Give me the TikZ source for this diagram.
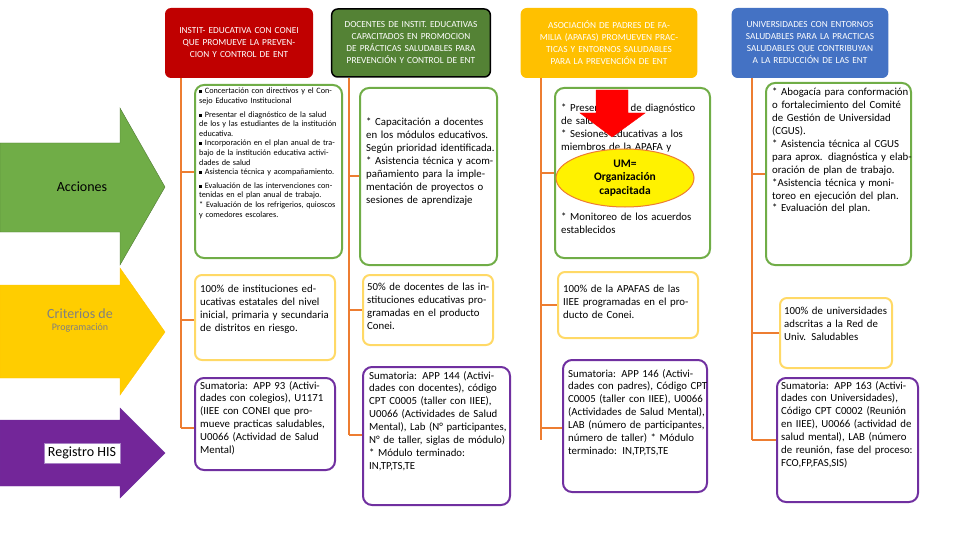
\documentclass[tikz,border=0pt]{standalone}
\usepackage{fontspec}
\setmainfont{Carlito}
\usetikzlibrary{shapes.geometric}
\definecolor{hdred}{RGB}{192,0,0}
\definecolor{hdgreen}{RGB}{84,130,53}
\definecolor{hdyellow}{RGB}{255,192,0}
\definecolor{hdblue}{RGB}{68,114,196}
\definecolor{bxgreen}{RGB}{112,173,71}
\definecolor{bxyellow}{RGB}{255,217,102}
\definecolor{bxpurple}{RGB}{112,48,160}
\definecolor{lnorange}{RGB}{237,125,49}
\newcommand{\sqb}{\rule[0.5pt]{3pt}{3pt}\ }
\tikzset{
  head/.style={rounded corners=6pt,text=white,align=center,font=\fontsize{9.3}{12}\selectfont},
  actbox/.style={draw=bxgreen,line width=2pt,rounded corners=9pt,fill=white},
  critbox/.style={draw=bxyellow,line width=2pt,rounded corners=7pt,fill=white},
  regbox/.style={draw=bxpurple,line width=2pt,rounded corners=9pt,fill=white},
  txt/.style={anchor=north west,align=left,inner sep=0pt,font=\fontsize{10.8}{12.9}\selectfont},
  link/.style={draw=lnorange,line width=1.5pt},
}
\begin{document}
\begin{tikzpicture}[x=1pt,y=-1pt]
\useasboundingbox (0,0) rectangle (960,540);

% left arrows
\draw[fill=bxgreen,draw=bxgreen!70!black] (0,143) -- (120,143) -- (120,108) -- (165,187) -- (120,265) -- (120,232) -- (0,232) -- cycle;
\node (acc) at (82,187) {\fontsize{14}{16}\selectfont Acciones};
\draw[fill=hdyellow!80!yellow,draw=hdyellow] (0,285) -- (120,285) -- (120,268) -- (165,332) -- (120,395) -- (120,378) -- (0,378) -- cycle;
\node[align=center,text=gray] (crit) at (80,320) {\fontsize{14}{21}\selectfont Criterios de\\Programación};
\draw[fill=bxpurple!80!violet,draw=bxpurple] (0,420) -- (120,420) -- (120,408) -- (165,453) -- (120,498) -- (120,486) -- (0,486) -- cycle;
\node[fill=white,draw=bxpurple!60,inner sep=4pt] (reg) at (82,453) {\fontsize{14}{16}\selectfont Registro HIS};

% headers
\node[head,fill=hdred,minimum width=148pt,minimum height=70pt,text width=140pt] (h1) at (239,43) {INSTIT- EDUCATIVA CON CONEI QUE PROMUEVE LA PREVENCION Y CONTROL DE ENT};
\node[head,fill=hdgreen,draw=black,line width=1.5pt,minimum width=155pt,minimum height=68pt,text width=152pt] (h2) at (411,43) {DOCENTES DE INSTIT. EDUCATIVAS CAPACITADOS EN PROMOCION DE PRÁCTICAS SALUDABLES PARA PREVENCIÓN Y CONTROL DE ENT};
\node[head,fill=hdyellow,minimum width=176pt,minimum height=70pt,text width=170pt] (h3) at (609,43) {ASOCIACIÓN DE PADRES DE FAMILIA (APAFAS) PROMUEVEN PRACTICAS Y ENTORNOS SALUDABLES PARA LA PREVENCIÓN DE ENT};
\node[head,fill=hdblue,minimum width=154pt,minimum height=70pt,text width=150pt] (h4) at (810,43) {UNIVERSIDADES CON ENTORNOS SALUDABLES PARA LA PRACTICAS SALUDABLES QUE CONTRIBUYAN A LA REDUCCIÓN DE LAS ENT};

% trunk lines
\coordinate (t1) at (181,428); \coordinate (t2) at (349,435);
\coordinate (t3) at (541,440); \coordinate (t4) at (752,440);
\draw[link] (181,78) -- (t1); \draw[link] (349,78) -- (t2);
\draw[link] (541,78) -- (t3); \draw[link] (752,78) -- (t4);
\draw[link] (181,172) -- (195,172); \draw[link] (181,320) -- (195,320); \draw[link] (181,428) -- (195,428);
\draw[link] (349,176) -- (360,176); \draw[link] (349,310) -- (363,310); \draw[link] (349,435) -- (363,435);
\draw[link] (541,173) -- (555,173); \draw[link] (541,305) -- (558,305); \draw[link] (541,428) -- (563,428);
\draw[link] (752,174) -- (766,174); \draw[link] (752,333) -- (780,333); \draw[link] (752,440) -- (777,440);

% acciones
\draw[actbox] (195,85) rectangle (342,258);
\node[txt,text width=141pt,font=\fontsize{8.2}{9.6}\selectfont] (a1) at (199,88) {\sqb Concertación con directivos y el Consejo Educativo Institucional\\[4pt]
\sqb Presentar el diagnóstico de la salud de los y las estudiantes de la institución educativa.\\
\sqb Incorporación en el plan anual de trabajo de la institución educativa actividades de salud\\
\sqb Asistencia técnica y acompañamiento.\\[4pt]
\sqb Evaluación de las intervenciones contenidas en el plan anual de trabajo.\\
{*} Evaluación de los refrigerios, quioscos y comedores escolares.};
\draw[actbox] (360,88) rectangle (497,265);
\node[txt,text width=131pt] (a2) at (366,118) {* Capacitación a docentes en los módulos educativos. Según prioridad identificada.\\
{*} Asistencia técnica y acompañamiento para la implementación de proyectos o sesiones de aprendizaje};
\draw[actbox] (555,88) rectangle (710,258);
\node[txt,text width=148pt] (a3) at (561,104) {* Presentación de diagnóstico de salud.\\
{*} Sesiones educativas a los miembros de la APAFA y};
\node[txt,text width=148pt] (a3b) at (561,213) {* Monitoreo de los acuerdos establecidos};
\draw[actbox] (766,83) rectangle (911,265);
\node[txt,text width=140pt] (a4) at (772,88) {* Abogacía para conformación o fortalecimiento del Comité de Gestión de Universidad (CGUS).\\
{*} Asistencia técnica al CGUS para aprox. diagnóstica y elaboración de plan de trabajo.\\
{*}Asistencia técnica y monitoreo en ejecución del plan.\\
{*} Evaluación del plan.};

% red arrow and ellipse
\draw[fill=red,draw=red] (596,90) -- (628,90) -- (628,113) -- (645,113) -- (612,137) -- (580,113) -- (596,113) -- cycle;
\node[ellipse,fill=yellow,draw=lnorange,line width=1pt,minimum width=138pt,minimum height=58pt,inner sep=0pt,align=center,font=\bfseries\fontsize{11.5}{13.5}\selectfont] (um) at (625,178) {UM=\\Organización\\capacitada};

% criterios
\draw[critbox] (195,275) rectangle (335,360);
\node[txt,text width=134pt] (c1) at (200,285) {100\% de instituciones educativas estatales del nivel inicial, primaria y secundaria de distritos en riesgo.};
\draw[critbox] (363,275) rectangle (493,345);
\node[txt,text width=126pt] (c2) at (367,283) {50\% de docentes de las instituciones educativas programadas en el producto Conei.};
\draw[critbox] (558,272) rectangle (698,338);
\node[txt,text width=136pt] (c3) at (563,285) {100\% de la APAFAS de las IIEE programadas en el producto de Conei.};
\draw[critbox] (780,298) rectangle (892,368);
\node[txt,text width=108pt] (c4) at (784,307) {100\% de universidades adscritas a la Red de Univ. Saludables};

% registro
\draw[regbox] (195,378) rectangle (335,470);
\node[txt,text width=136pt] (r1) at (200,381) {Sumatoria: APP 93 (Actividades con colegios), U1171 (IIEE con CONEI que promueve practicas saludables, U0066 (Actividad de Salud Mental)};
\draw[regbox] (363,367) rectangle (510,505);
\node[txt,text width=142pt] (r2) at (369,371) {Sumatoria: APP 144 (Actividades con docentes), código CPT C0005 (taller con IIEE), U0066 (Actividades de Salud Mental), Lab (N° participantes, N° de taller, siglas de módulo)\\
{*} Módulo terminado: IN,TP,TS,TE};
\draw[regbox] (563,360) rectangle (707,492);
\node[txt,text width=140pt] (r3) at (568,369) {Sumatoria: APP 146 (Actividades con padres), Código CPT C0005 (taller con IIEE), U0066 (Actividades de Salud Mental), LAB (número de participantes, número de taller) * Módulo terminado: IN,TP,TS,TE};
\draw[regbox] (777,378) rectangle (918,502);
\node[txt,text width=140pt] (r4) at (781,381) {Sumatoria: APP 163 (Actividades con Universidades), Código CPT C0002 (Reunión en IIEE), U0066 (actividad de salud mental), LAB (número de reunión, fase del proceso: FCO,FP,FAS,SIS)};
\end{tikzpicture}
\end{document}
